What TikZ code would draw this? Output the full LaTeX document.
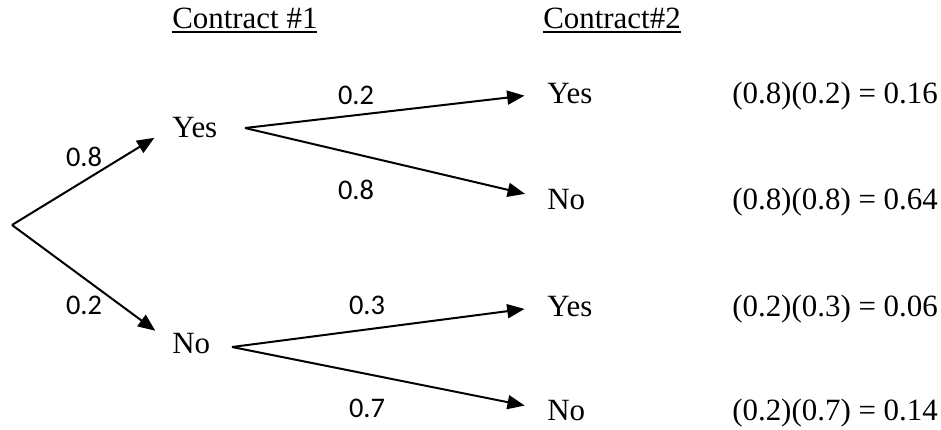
\documentclass[tikz,border=0pt]{standalone}
\usepackage{fontspec}
\setmainfont{Liberation Serif}
\newfontfamily\labelfont{Carlito}
\usetikzlibrary{arrows.meta}

\newsavebox{\headbox}
\newcommand{\ulhead}[1]{\sbox{\headbox}{#1}\rlap{\usebox{\headbox}}\rule[-3.7pt]{\wd\headbox}{1.4pt}}

\tikzset{
  outcome/.style={anchor=base west,inner sep=0pt,font=\fontsize{23.2}{28}\selectfont},
  prob/.style={inner sep=0pt,font=\labelfont\fontsize{21.3}{25}\selectfont},
  branch/.style={line width=1.5pt,-{Triangle[length=13pt,width=10.5pt]}},
}

\begin{document}
\begin{tikzpicture}[x=0.75pt,y=0.75pt,yscale=-1,xscale=1]
\useasboundingbox (0,0) rectangle (941,429);

% Headings
\draw (172,28) node [outcome] (head1) {\ulhead{Contract \#1}};
\draw (543,28) node [outcome] (head2) {\ulhead{Contract\#2}};

% Text Node - first contract
\draw (172,137) node [outcome] (yes1) {Yes};
\draw (172,353) node [outcome] (no1) {No};
% Text Node - second contract
\draw (547,103) node [outcome] (yes2) {Yes};
\draw (547,209) node [outcome] (no2) {No};
\draw (547,316) node [outcome] (yes3) {Yes};
\draw (547,420) node [outcome] (no3) {No};

% Text Node - joint probabilities
\draw (732,103) node [outcome] (res1) {(0.8)(0.2) = 0.16};
\draw (732,209) node [outcome] (res2) {(0.8)(0.8) = 0.64};
\draw (732,316) node [outcome] (res3) {(0.2)(0.3) = 0.06};
\draw (732,420) node [outcome] (res4) {(0.2)(0.7) = 0.14};

% Text Node - branch probabilities
\draw (84,157) node [prob] (p1) {0.8};
\draw (84,305) node [prob] (p2) {0.2};
\draw (356,95) node [prob] (p3) {0.2};
\draw (356,190) node [prob] (p4) {0.8};
\draw (367,305) node [prob] (p5) {0.3};
\draw (367,408) node [prob] (p6) {0.7};

% forks
\coordinate (root) at (12,225);
\coordinate (fork1) at (245,128);
\coordinate (fork2) at (232,347);

%Straight Lines
\draw [branch,shorten >=15.5pt] (root) -- (yes1.west);
\draw [branch,shorten >=15.5pt] (root) -- (no1.west);
\draw [branch,shorten >=17pt] (fork1) -- (yes2.west);
\draw [branch,shorten >=17pt] (fork1) -- (no2.west);
\draw [branch,shorten >=17pt] (fork2) -- (yes3.west);
\draw [branch,shorten >=17pt] (fork2) -- (no3.west);

\end{tikzpicture}
\end{document}
